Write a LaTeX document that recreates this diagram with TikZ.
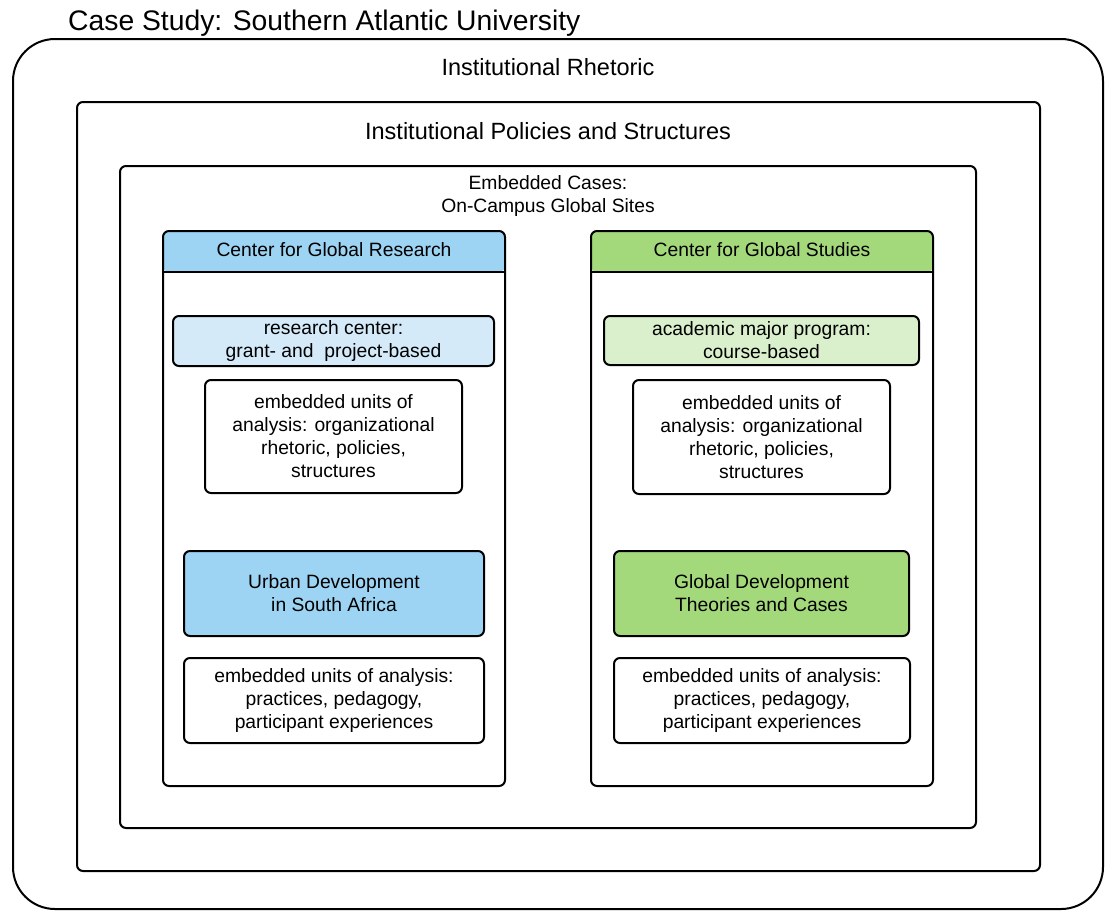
\documentclass[tikz,border=0pt]{standalone}
\usepackage{fontspec}
\setmainfont{Liberation Sans}
\definecolor{hblue}{HTML}{9DD3F3}
\definecolor{lblue}{HTML}{D4EAF8}
\definecolor{hgreen}{HTML}{A4D97B}
\definecolor{lgreen}{HTML}{DAEFCB}
\begin{document}
\begin{tikzpicture}[x=1pt,y=-1pt,
  frame/.style={draw=black,line width=2pt,rounded corners=6pt},
  txt/.style={align=center,inner sep=0pt,font=\fontsize{19.3}{23}\selectfont},
  box/.style={frame,inner sep=0pt,align=center,font=\fontsize{19.3}{23}\selectfont}]
\useasboundingbox (0,0) rectangle (1105,911);
% outer frames
\draw[line width=2pt,rounded corners=42pt] (13,39) rectangle (1103,909);
\draw[frame] (77,102) rectangle (1040,871);
\draw[frame] (120,166) rectangle (976,828);
\node[anchor=base west,inner sep=0pt,font=\fontsize{28.3}{32}\selectfont] (title) at (68,30) {Case Study: Southern Atlantic University};
\node[txt,font=\fontsize{23.5}{28}\selectfont] (rhet) at (548,67) {Institutional Rhetoric};
\node[txt,font=\fontsize{23.5}{28}\selectfont] (pol) at (548,131) {Institutional Policies and Structures};
\node[txt] (emb) at (548,196) {Embedded Cases:\\On-Campus Global Sites};
% left column
\fill[hblue,rounded corners=6pt] (163,272) -- (163,231) -- (505,231) -- (505,272) -- cycle;
\draw[line width=2pt] (163,272) -- (505,272);
\draw[frame] (163,231) rectangle (505,786);
\node[txt] (cgr) at (334,250) {Center for Global Research};
% right column
\fill[hgreen,rounded corners=6pt] (591,272) -- (591,231) -- (933,231) -- (933,272) -- cycle;
\draw[line width=2pt] (591,272) -- (933,272);
\draw[frame] (591,231) rectangle (933,786);
\node[txt] (cgs) at (762,250) {Center for Global Studies};
% left inner boxes
\node[box,fill=lblue,minimum width=321pt,minimum height=50pt] (rc) at (333.5,341) {research center:\\grant- and\ \ project-based};
\node[box,fill=white,minimum width=257pt,minimum height=113pt] (eu1) at (333.5,436.5) {embedded units of\\analysis: organizational\\rhetoric, policies,\\structures};
\node[box,fill=hblue,minimum width=300pt,minimum height=85pt] (ud) at (334,593.5) {Urban Development\\in South Africa};
\node[box,fill=white,minimum width=300pt,minimum height=85pt] (eu2) at (334,700.5) {embedded units of analysis:\\practices, pedagogy,\\participant experiences};
% right inner boxes
\node[box,fill=lgreen,minimum width=315pt,minimum height=49pt] (am) at (761.5,340.5) {academic major program:\\course-based};
\node[box,fill=white,minimum width=257pt,minimum height=114pt] (eu3) at (761.5,437) {embedded units of\\analysis: organizational\\rhetoric, policies,\\structures};
\node[box,fill=hgreen,minimum width=295pt,minimum height=85pt] (gd) at (761.5,593.5) {Global Development\\Theories and Cases};
\node[box,fill=white,minimum width=296pt,minimum height=85pt] (eu4) at (762,700.5) {embedded units of analysis:\\practices, pedagogy,\\participant experiences};
\end{tikzpicture}
\end{document}
